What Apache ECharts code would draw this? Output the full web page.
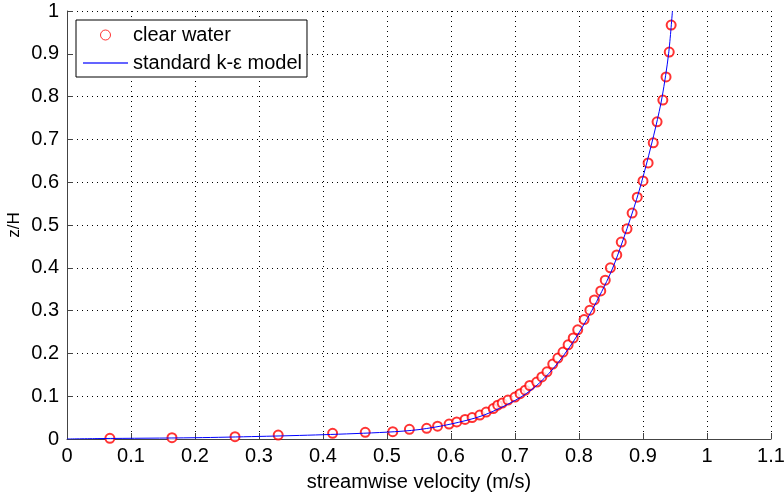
<!DOCTYPE html>
<html>
<head>
<meta charset="utf-8">
<script src="https://cdn.jsdelivr.net/npm/echarts@6/dist/echarts.min.js"></script>
<style>
  html, body { margin: 0; padding: 0; background: #fff; }
  #chart { width: 784px; height: 495px; }
</style>
</head>
<body>
<div id="chart"></div>
<script>
// Measured profile: streamwise velocity (m/s) and relative depth z/H
const measuredU = [0.067, 0.164, 0.2625, 0.330, 0.415, 0.466, 0.509, 0.535, 0.562, 0.579, 0.597,
  0.609, 0.622, 0.633, 0.645, 0.655, 0.666, 0.673, 0.680, 0.689, 0.700, 0.708, 0.716, 0.723,
  0.734, 0.742, 0.750, 0.759, 0.767, 0.775, 0.783, 0.791, 0.798, 0.808, 0.817, 0.824, 0.834,
  0.841, 0.849, 0.859, 0.866, 0.875, 0.883, 0.891, 0.900, 0.908, 0.916, 0.922, 0.931, 0.936,
  0.941, 0.944];
const measuredZ = [0.0016, 0.003, 0.0054, 0.0093, 0.0133, 0.0157, 0.017, 0.0227, 0.025, 0.030, 0.035,
  0.040, 0.0456, 0.050, 0.056, 0.063, 0.071, 0.079, 0.084, 0.091, 0.098, 0.106, 0.114, 0.125,
  0.133, 0.145, 0.157, 0.175, 0.189, 0.203, 0.220, 0.236, 0.255, 0.279, 0.301, 0.325, 0.346,
  0.371, 0.400, 0.430, 0.460, 0.491, 0.528, 0.565, 0.603, 0.645, 0.692, 0.741, 0.792, 0.846,
  0.904, 0.967];

// Standard k-epsilon model profile
const modelU = [0, 0.05, 0.2, 0.3, 0.4, 0.5, 0.55, 0.6, 0.65, 0.7, 0.73, 0.76, 0.79, 0.82,
  0.85, 0.87, 0.89, 0.905, 0.92, 0.93, 0.94, 0.946];
const modelZ = [0, 0.001, 0.003, 0.006, 0.01, 0.016, 0.022, 0.035, 0.055, 0.09, 0.12, 0.165,
  0.225, 0.3, 0.39, 0.47, 0.56, 0.64, 0.73, 0.8, 0.9, 1.0];

const seriesNames = ['clear water', 'standard k-\u03b5 model'];

const pairs = (xs, ys) => xs.map((x, i) => [x, ys[i]]);

const font = '"Liberation Sans", Arial, sans-serif';
const gridLine = { show: true, lineStyle: { color: '#000', type: [1, 4], width: 1 } };
const oneDecimal = v => String(Math.round(v * 10) / 10);

// Thin horizontal bar used as the legend swatch of the model curve
const lineSwatch = 'path://M0,0 L45,0 L45,1.5 L0,1.5 Z';

const chart = echarts.init(document.getElementById('chart'), null, { renderer: 'canvas' });
chart.setOption({
  animation: false,
  backgroundColor: '#fff',
  grid: {
    left: 67, right: 13, top: 11, bottom: 56,
    outerBoundsMode: 'none', containLabel: false,
    show: true, borderColor: 'transparent'
  },
  xAxis: {
    type: 'value', min: 0, max: 1.1, interval: 0.1,
    name: 'streamwise velocity (m/s)', nameLocation: 'middle', nameGap: 33,
    nameMoveOverlap: false,
    nameTextStyle: { fontFamily: font, fontSize: 20, color: '#000' },
    axisLine: { show: true, onZero: false, lineStyle: { color: '#444', width: 1 } },
    axisTick: { show: true, inside: true, length: 6, lineStyle: { color: '#444' } },
    axisLabel: { fontFamily: font, fontSize: 20, color: '#000', margin: 7, formatter: oneDecimal },
    splitLine: gridLine
  },
  yAxis: {
    type: 'value', min: 0, max: 1, interval: 0.1,
    name: 'z/H', nameLocation: 'middle', nameGap: 44, nameRotate: 90,
    nameMoveOverlap: false,
    nameTextStyle: { fontFamily: font, fontSize: 17, color: '#000' },
    axisLine: { show: true, onZero: false, lineStyle: { color: '#444', width: 1 } },
    axisTick: { show: true, inside: true, length: 6, lineStyle: { color: '#444' } },
    axisLabel: { fontFamily: font, fontSize: 20, color: '#000', margin: 8, formatter: oneDecimal },
    splitLine: gridLine
  },
  legend: {
    show: true, orient: 'vertical', left: 76, top: 20,
    backgroundColor: '#fff', borderColor: '#000', borderWidth: 1,
    padding: [5, 5, 4, 7], itemGap: 8, itemWidth: 45, itemHeight: 10,
    symbolKeepAspect: true,
    textStyle: { fontFamily: font, fontSize: 20, color: '#000' },
    data: [
      { name: seriesNames[0], icon: 'circle',
        itemStyle: { color: '#fff', borderColor: '#ff0000', borderWidth: 1 } },
      { name: seriesNames[1], icon: lineSwatch,
        itemStyle: { color: '#3030ff', borderWidth: 0 } }
    ]
  },
  series: [
    {
      name: seriesNames[0], type: 'scatter',
      data: pairs(measuredU, measuredZ),
      symbol: 'emptyCircle', symbolSize: 9,
      itemStyle: { color: '#ff0000', borderColor: '#ff0000', borderWidth: 1 },
      z: 3
    },
    {
      name: seriesNames[1], type: 'line',
      data: pairs(modelU, modelZ),
      symbol: 'none', smooth: 0.3,
      lineStyle: { color: '#0000ff', width: 1 },
      itemStyle: { color: '#0000ff' },
      z: 4
    }
  ]
});
</script>
</body>
</html>
